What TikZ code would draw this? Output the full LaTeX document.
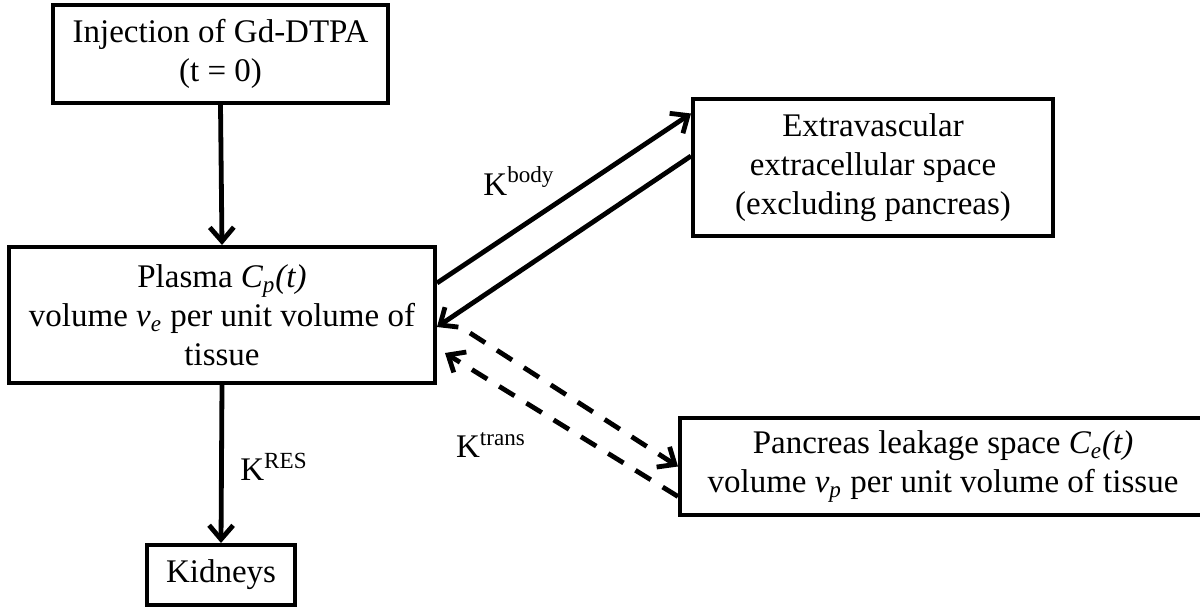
\documentclass[tikz,border=0pt]{standalone}
\usepackage{fontspec}
\setmainfont{Liberation Serif}
\usepackage{tikz}
\usetikzlibrary{arrows.meta}

\tikzset{
  box/.style={draw, line width=2pt, align=center, inner sep=0pt,
    font=\fontsize{16.5}{19.5}\selectfont},
  rate/.style={font=\fontsize{16.5}{19.5}\selectfont},
  flow/.style={line width=2.4pt, -{Straight Barb[length=7pt,width=12pt]}},
  leak/.style={flow, dash pattern=on 9pt off 7pt}
}

\begin{document}
\begin{tikzpicture}[x=0.5pt, y=-0.5pt]
\useasboundingbox (0,0) rectangle (1200,608);

% Boxes
\node[box, minimum width=167.5pt, minimum height=49pt] (inj) at (220.5,54)
  {Injection of Gd-DTPA\\(t = 0)};
\node[box, minimum width=213pt, minimum height=68pt] (plasma) at (222,315)
  {Plasma \textit{C\textsubscript{p}(t)}\\volume \textit{v\textsubscript{e}} per unit volume of\\tissue};
\node[box, minimum width=74pt, minimum height=30pt] (kid) at (221,575) {Kidneys};
\node[box, minimum width=180pt, minimum height=68.5pt] (extra) at (873,167.5)
  {Extravascular\\extracellular space\\(excluding pancreas)};
\node[box, minimum width=263pt, minimum height=48.5pt] (panc) at (943,466.5)
  {Pancreas leakage space \textit{C\textsubscript{e}(t)}\\volume \textit{v\textsubscript{p}} per unit volume of tissue};

% Arrows
\draw[flow] (inj.south) -- (plasma.north);
\draw[flow] (plasma.south) -- (kid.north);
\draw[flow] ([yshift=16pt]plasma.east) -- ([yshift=27pt]extra.west);
\draw[flow] ([yshift=5.75pt]extra.west) -- ([yshift=-6pt]plasma.east);
\draw[leak] ([xshift=16.5pt,yshift=-9pt]plasma.east) -- (panc.west);
\draw[leak] ([yshift=-15pt]panc.west) -- ([xshift=4pt,yshift=-19pt]plasma.east);

% Labels
\node[rate] (kres) at (274,467) {K\textsuperscript{RES}};
\node[rate] (kbody) at (519,181) {K\textsuperscript{body}};
\node[rate] (ktrans) at (491,445) {K\textsuperscript{trans}};

\end{tikzpicture}
\end{document}
